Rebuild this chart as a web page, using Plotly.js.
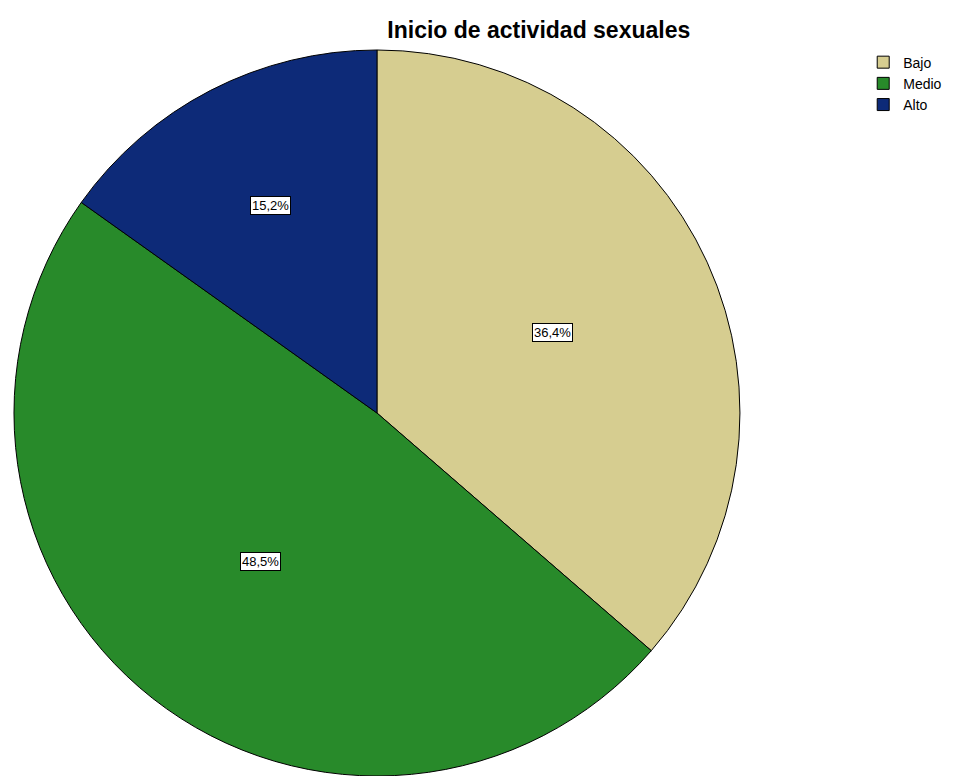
<!DOCTYPE html>
<html>
<head>
<meta charset="utf-8">
<script src="https://cdn.plot.ly/plotly-3.0.1.min.js"></script>
<style>html,body{margin:0;padding:0;background:#fff;}#chart{width:957px;height:776px;}</style>
</head>
<body>
<div id="chart"></div>
<script>
const categories = ["Bajo", "Medio", "Alto"];
const counts = [12, 16, 5];
const colors = ["#d6cd90", "#288a2a", "#0d2a78"];
const titleText = "Inicio de actividad sexuales";

const W = 957, H = 776;
const total = counts.reduce((a, b) => a + b, 0);
const pctLabels = counts.map(v => (v / total * 100).toFixed(1).replace('.', ',') + '%');

// pie geometry (domain)
const domX = [0.0146, 0.7732];
const domY = [0, 0.9356];
const cxPx = (domX[0] + domX[1]) / 2 * W;
const cyPx = (domY[0] + domY[1]) / 2 * H;
const rPx = Math.min((domX[1] - domX[0]) * W, (domY[1] - domY[0]) * H) / 2;

// label positions from slice angles (clockwise from 12 o'clock), near sector centroid
const annotations = [];
let cum = 0;
counts.forEach((v, i) => {
  const theta = v / total * 2 * Math.PI;
  const mid = (cum + v / 2) / total * 2 * Math.PI;
  cum += v;
  let frac = 4 * Math.sin(theta / 2) / (3 * theta);
  frac = Math.max(frac, 0.52);
  const x = (cxPx + rPx * frac * Math.sin(mid)) / W;
  const y = (cyPx + rPx * frac * Math.cos(mid)) / H;
  annotations.push({
    x: x, y: y, xref: 'paper', yref: 'paper', showarrow: false,
    xanchor: 'center', yanchor: 'middle',
    text: pctLabels[i],
    font: {family: 'Liberation Sans, Arial, sans-serif', size: 13, color: '#000'},
    bgcolor: '#ffffff', bordercolor: '#000000', borderwidth: 1, borderpad: 1
  });
});

const data = [{
  type: 'pie',
  labels: categories,
  values: counts,
  marker: {colors: colors, line: {color: '#000000', width: 1}},
  sort: false,
  direction: 'clockwise',
  rotation: 0,
  textinfo: 'none',
  hoverinfo: 'none',
  domain: {x: domX, y: domY}
}];

const layout = {
  width: W, height: H,
  margin: {l: 0, r: 0, t: 0, b: 0},
  paper_bgcolor: '#ffffff',
  plot_bgcolor: '#ffffff',
  title: {
    text: '<b>' + titleText + '</b>',
    x: 0.563, xanchor: 'center',
    y: 0.962, yanchor: 'middle',
    font: {family: 'Liberation Sans, Arial, sans-serif', size: 23, color: '#000'}
  },
  showlegend: true,
  legend: {
    x: 0.902, xanchor: 'left', y: 0.94, yanchor: 'top',
    font: {family: 'Liberation Sans, Arial, sans-serif', size: 14, color: '#000'},
    tracegroupgap: 0, itemwidth: 30
  },
  annotations: annotations
};

Plotly.newPlot('chart', data, layout, {displayModeBar: false, staticPlot: true});
</script>
</body>
</html>
